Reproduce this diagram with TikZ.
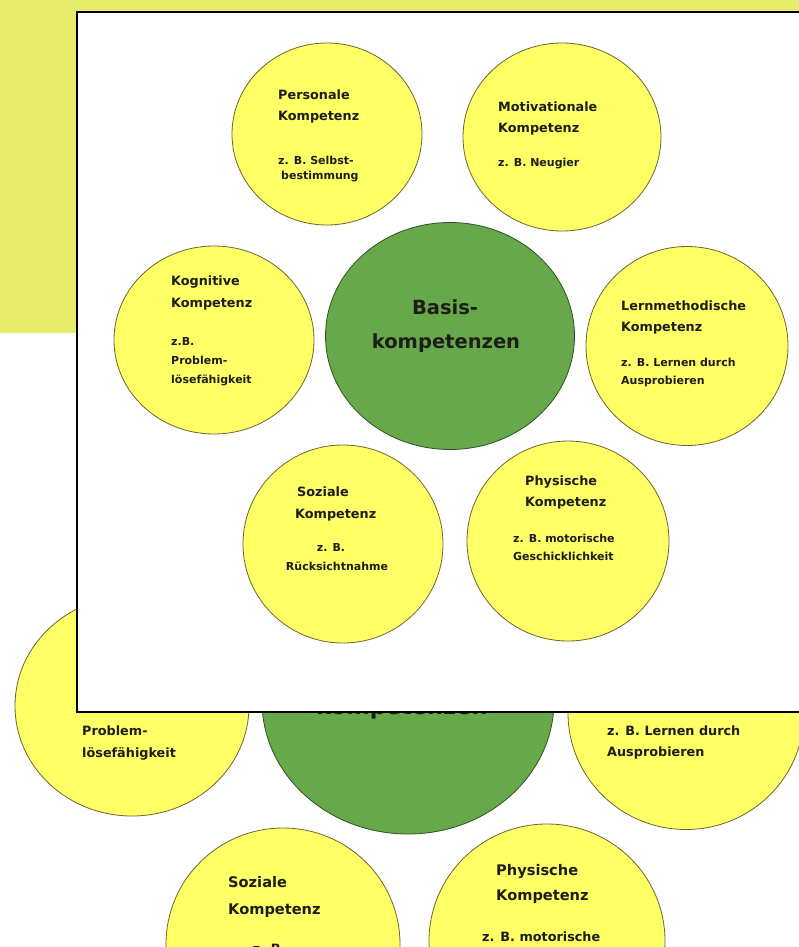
\documentclass[tikz,border=0pt]{standalone}
\usepackage{fontspec}
\setmainfont{DejaVu Sans}
\usetikzlibrary{shapes.geometric}
\definecolor{bgyel}{RGB}{230,235,105}
\definecolor{cyel}{RGB}{255,255,102}
\definecolor{cedge}{RGB}{110,100,50}
\definecolor{cgreen}{RGB}{102,168,74}
\definecolor{gedge}{RGB}{45,85,35}
\definecolor{txt}{RGB}{30,30,25}
\tikzset{
  ybub/.style={ellipse,draw=cedge,line width=0.8pt,fill=cyel,inner sep=0pt},
  gbub/.style={ellipse,draw=gedge,line width=0.8pt,fill=cgreen,inner sep=0pt},
  ttl/.style={anchor=mid west,inner sep=0pt,text=txt,font=\bfseries\fontsize{12.8}{14}\selectfont},
  ex/.style={anchor=mid west,inner sep=0pt,text=txt,font=\bfseries\fontsize{11}{12}\selectfont},
  exc/.style={ex,anchor=mid},
  bttl/.style={ttl,font=\bfseries\fontsize{14.6}{16}\selectfont},
  bex/.style={ex,font=\bfseries\fontsize{12.8}{14}\selectfont},
  bexc/.style={bex,anchor=mid},
  basis/.style={anchor=mid,inner sep=0pt,text=txt,font=\bfseries\fontsize{19.5}{22}\selectfont},
  bbasis/.style={basis,font=\bfseries\fontsize{22.5}{26}\selectfont},
  frame/.style={draw=black,line width=2.5pt,fill=white}
}
\begin{document}
\begin{tikzpicture}[x=1pt,y=-1pt]
\useasboundingbox (0,0) rectangle (799,947);
\clip (0,0) rectangle (799,947);
\fill[white] (0,0) rectangle (799,947);
% background yellow
\fill[bgyel] (0,0) rectangle (799,12);
\fill[bgyel] (0,0) rectangle (77,333);

% ---------- large background diagram ----------
\node[ybub,minimum width=234pt,minimum height=220pt] (BKog) at (132,706) {};
\node[gbub,minimum width=292pt,minimum height=266pt] (BBas) at (408,701) {};
\node[ybub,minimum width=236pt,minimum height=233pt] (BLer) at (686,713) {};
\node[ybub,minimum width=236pt,minimum height=234pt] (BPhy) at (547,941) {};
\node[ybub,minimum width=234pt,minimum height=232pt] (BSoz) at (283,944) {};

\node[bex] (bk1) at (82,711) {z.B.};
\node[bex] (bk2) at (82,733) {Problem-};
\node[bex] (bk3) at (82,755) {lösefähigkeit};
\node[bbasis] (bb1) at (402,712) {kompetenzen};
\node[bex] (bl1) at (607,733) {z. B. Lernen durch};
\node[bex] (bl2) at (607,754) {Ausprobieren};
\node[bttl] (bp1) at (496,873) {Physische};
\node[bttl] (bp2) at (496,898) {Kompetenz};
\node[bex] (bp3) at (482,939) {z. B. motorische};
\node[bttl] (bs1) at (228,885) {Soziale};
\node[bttl] (bs2) at (228,912) {Kompetenz};
\node[bexc] (bs3) at (269,951) {z. B.};

% ---------- framed front diagram ----------
\draw[frame] (77,12) rectangle (810,712);

\node[ybub,minimum width=190pt,minimum height=182pt] (Pers) at (327,134) {};
\node[ybub,minimum width=198pt,minimum height=188pt] (Moti) at (562,137) {};
\node[gbub,minimum width=249pt,minimum height=227pt] (Basi) at (450,336) {};
\node[ybub,minimum width=202pt,minimum height=199pt] (Lern) at (687,346) {};
\node[ybub,minimum width=200pt,minimum height=188pt] (Kogn) at (214,340) {};
\node[ybub,minimum width=200pt,minimum height=198pt] (Sozi) at (343,544) {};
\node[ybub,minimum width=202pt,minimum height=200pt] (Phys) at (568,541) {};

\node[ttl] (pe1) at (278,97) {Personale};
\node[ttl] (pe2) at (278,118) {Kompetenz};
\node[ex] (pe3) at (278,162) {z. B. Selbst-};
\node[ex] (pe4) at (281,177) {bestimmung};

\node[ttl] (mo1) at (498,109) {Motivationale};
\node[ttl] (mo2) at (498,130) {Kompetenz};
\node[ex] (mo3) at (498,164) {z. B. Neugier};

\node[basis] (ba1) at (445,312) {Basis-};
\node[basis] (ba2) at (446,346) {kompetenzen};

\node[ttl] (le1) at (621,308) {Lernmethodische};
\node[ttl] (le2) at (621,329) {Kompetenz};
\node[ex] (le3) at (621,364) {z. B. Lernen durch};
\node[ex] (le4) at (621,382) {Ausprobieren};

\node[ttl] (ko1) at (171,283) {Kognitive};
\node[ttl] (ko2) at (171,305) {Kompetenz};
\node[ex] (ko3) at (171,343) {z.B.};
\node[ex] (ko4) at (171,362) {Problem-};
\node[ex] (ko5) at (171,381) {lösefähigkeit};

\node[ttl] (so1) at (297,494) {Soziale};
\node[ttl] (so2) at (295,516) {Kompetenz};
\node[exc] (so3) at (331,549) {z. B.};
\node[exc] (so4) at (337,568) {Rücksichtnahme};

\node[ttl] (ph1) at (525,483) {Physische};
\node[ttl] (ph2) at (525,504) {Kompetenz};
\node[ex] (ph3) at (513,540) {z. B. motorische};
\node[ex] (ph4) at (513,558) {Geschicklichkeit};
\end{tikzpicture}
\end{document}
